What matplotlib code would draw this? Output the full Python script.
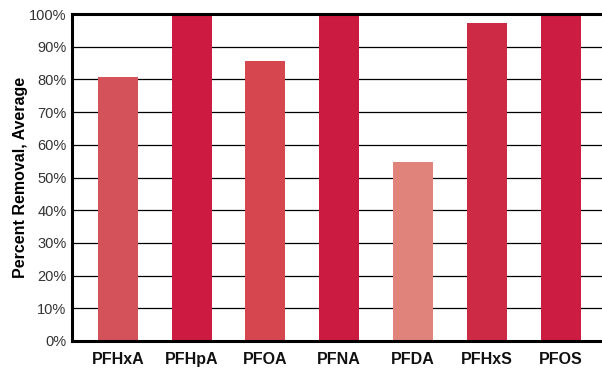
import matplotlib
matplotlib.use('Agg')
import matplotlib.pyplot as plt
from matplotlib.ticker import FuncFormatter

plt.rcParams['font.family'] = ['Liberation Sans', 'DejaVu Sans']

# 各化合物的平均去除率
compounds = ['PFHxA', 'PFHpA', 'PFOA', 'PFNA', 'PFDA', 'PFHxS', 'PFOS']
removal = [80.7, 100.0, 85.6, 99.3, 54.7, 97.2, 99.3]
colors = ['#d4535a', '#cc1a41', '#d5464f', '#cc1b41', '#e0837a', '#cd2a46', '#cc1c42']

fig = plt.figure(figsize=(6.02, 3.72), dpi=100)
ax = fig.add_axes([72 / 602, 1 - 341 / 372, 1 - 72 / 602, 327 / 372])

x = range(len(compounds))
ax.bar(x, removal, width=0.54, color=colors, zorder=2)

ax.set_ylim(0, 100)
ax.set_xlim(-0.62, 6.56)
ax.set_yticks(range(0, 101, 10))
ax.yaxis.set_major_formatter(FuncFormatter(lambda v, p: f'{int(v)}%'))
ax.grid(axis='y', color='black', linewidth=0.9, zorder=1)
ax.set_axisbelow(True)

ax.set_xticks(list(x))
ax.set_xticklabels(compounds, fontsize=11.5, fontweight='bold', color='#111111')
ax.tick_params(axis='x', length=0, pad=8)
ax.tick_params(axis='y', length=0, pad=4, labelsize=10.5, labelcolor='#333333')

ax.set_ylabel('Percent Removal, Average', fontsize=11.5, fontweight='bold', labelpad=1)

for side in ['left', 'bottom', 'top']:
    ax.spines[side].set_linewidth(2.2)
    ax.spines[side].set_color('black')
ax.spines['right'].set_visible(False)

fig.savefig('out.png', dpi=100)
plt.close(fig)
